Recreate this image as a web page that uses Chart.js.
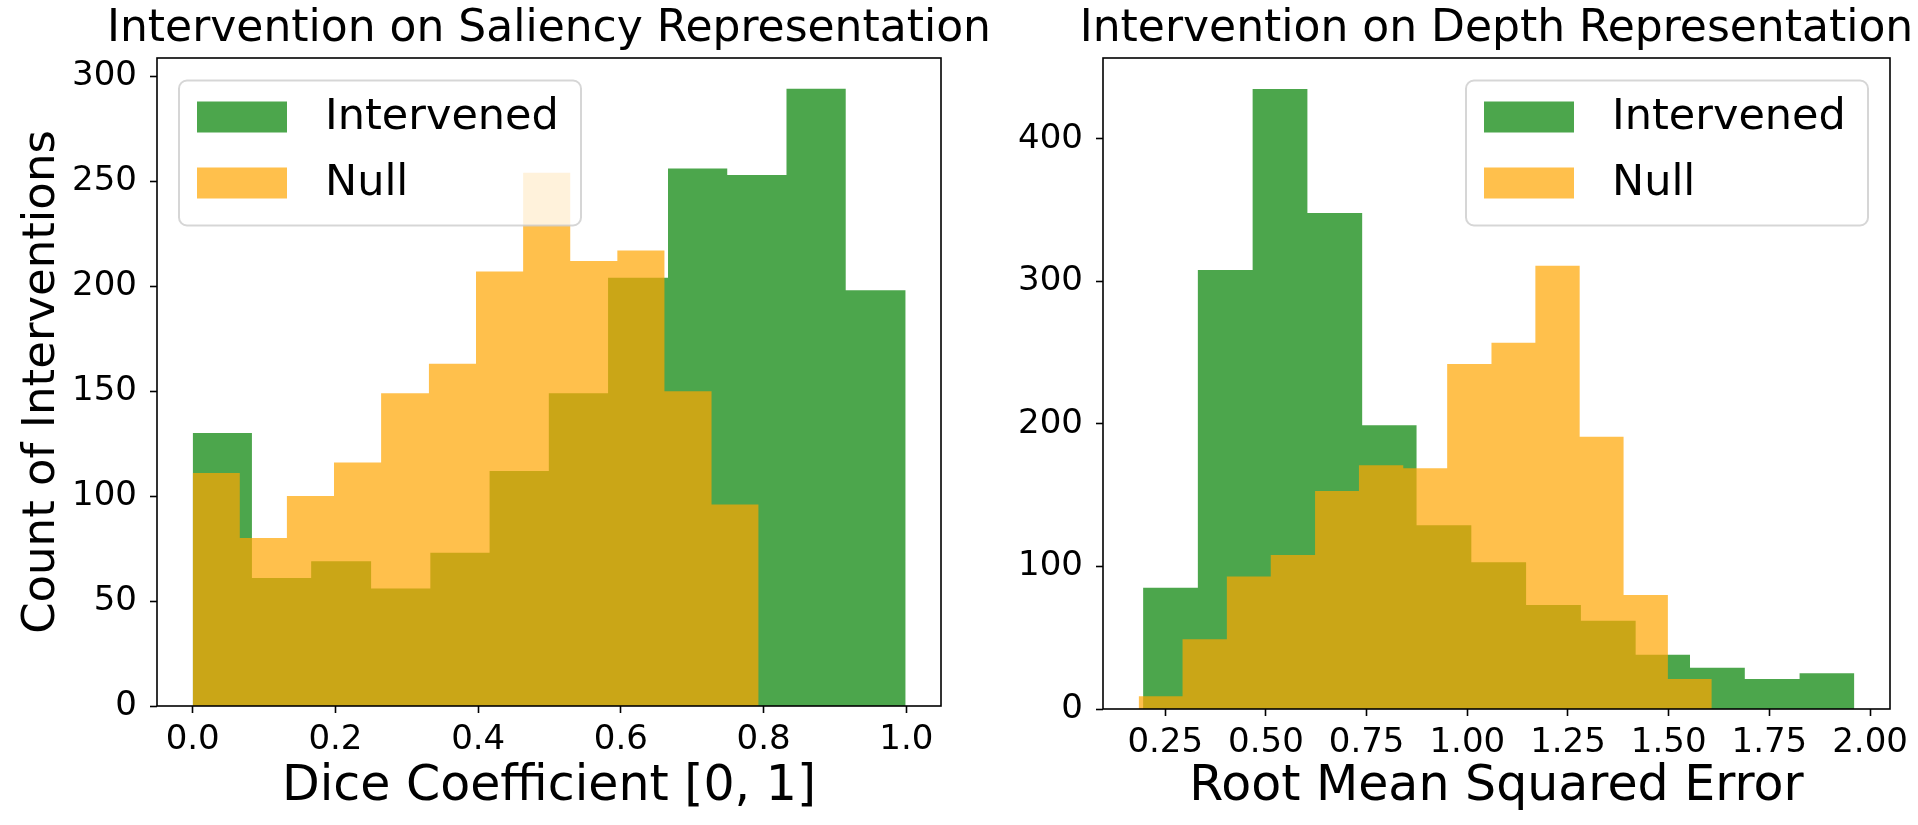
<!DOCTYPE html>
<html><head><meta charset="utf-8">
<script src="https://cdn.jsdelivr.net/npm/chart.js@4/dist/chart.umd.min.js"></script>
<style>
html,body{margin:0;padding:0;background:#fff;width:1918px;height:825px;overflow:hidden;position:relative}
canvas{position:absolute;top:0}
#c1{left:0;width:1098px;height:825px}
#c2{left:1000px;width:993px;height:825px}
</style></head><body>
<canvas id="c1" width="1098" height="825"></canvas>
<canvas id="c2" width="993" height="825"></canvas>
<script>
// ---- data ----
const seriesNames = ['Intervened', 'Null'];

const saliencyIntervenedEdges  = [0, 0.083, 0.166, 0.250, 0.333, 0.416, 0.499, 0.582, 0.666, 0.749, 0.832, 0.915, 0.999];
const saliencyIntervenedCounts = [130, 61, 69, 56, 73, 112, 149, 204, 256, 253, 294, 198];
const saliencyNullEdges        = [0, 0.066, 0.132, 0.198, 0.264, 0.331, 0.397, 0.463, 0.529, 0.595, 0.661, 0.727, 0.793];
const saliencyNullCounts       = [111, 80, 100, 116, 149, 163, 207, 254, 212, 217, 150, 96];

const depthIntervenedEdges  = [0.195, 0.331, 0.467, 0.603, 0.739, 0.874, 1.010, 1.146, 1.282, 1.418, 1.553, 1.689, 1.825, 1.961];
const depthIntervenedCounts = [85, 308, 435, 348, 199, 129, 103, 73, 62, 38, 29, 21, 25];
const depthNullEdges        = [0.184, 0.293, 0.403, 0.512, 0.622, 0.731, 0.841, 0.950, 1.060, 1.169, 1.279, 1.388, 1.498, 1.607];
const depthNullCounts       = [9, 49, 93, 108, 153, 171, 169, 242, 257, 311, 191, 80, 21];

const saliencyXTicks = [0, 0.2, 0.4, 0.6, 0.8, 1.0];
const saliencyYTicks = [0, 50, 100, 150, 200, 250, 300];
const depthXTicks = [0.25, 0.5, 0.75, 1.0, 1.25, 1.5, 1.75, 2.0];
const depthYTicks = [0, 100, 200, 300, 400];

const saliencyXRange = [-0.05, 1.0485];
const saliencyYRange = [0, 308.7];
const depthXRange = [0.0955, 2.0495];
const depthYRange = [0, 456.75];

// ---- styling ----
const FONT = 'DejaVu Sans';
const GREEN = 'rgba(0,128,0,0.7)';
const ORANGE = 'rgba(255,165,0,0.7)';

function histPoints(edges, counts) {
  const pts = counts.map((c, i) => ({x: edges[i], y: c}));
  pts.push({x: edges[edges.length - 1], y: counts[counts.length - 1]});
  return pts;
}

function histDataset(label, edges, counts, color, order) {
  return {
    label, order,
    data: histPoints(edges, counts),
    stepped: 'before',
    fill: 'origin',
    backgroundColor: color,
    borderColor: 'rgba(0,0,0,0)',
    borderWidth: 0,
    pointRadius: 0,
    pointHoverRadius: 0,
    tension: 0
  };
}

const framePlugin = {
  id: 'frame',
  afterDatasetsDraw(chart) {
    const {ctx, chartArea: a} = chart;
    ctx.save();
    ctx.strokeStyle = '#000';
    ctx.lineWidth = 1.6;
    ctx.strokeRect(a.left, a.top, a.right - a.left, a.bottom - a.top);
    ctx.restore();
  }
};

const legendPlugin = {
  id: 'boxLegend',
  afterDatasetsDraw(chart, args, opts) {
    const {ctx, chartArea: a} = chart;
    const w = 402, h = 145, r = 8;
    const x = opts.side === 'left' ? a.left + 22 : a.right - 22 - w;
    const y = a.top + 22.5;
    ctx.save();
    ctx.beginPath();
    ctx.moveTo(x + r, y);
    ctx.arcTo(x + w, y, x + w, y + h, r);
    ctx.arcTo(x + w, y + h, x, y + h, r);
    ctx.arcTo(x, y + h, x, y, r);
    ctx.arcTo(x, y, x + w, y, r);
    ctx.closePath();
    ctx.fillStyle = 'rgba(255,255,255,0.8)';
    ctx.fill();
    ctx.strokeStyle = 'rgba(204,204,204,0.8)';
    ctx.lineWidth = 2;
    ctx.stroke();
    chart.data.datasets.forEach((ds, i) => {
      ctx.fillStyle = ds.backgroundColor;
      ctx.fillRect(x + 18, y + 21 + i * 66, 90, 31);
      ctx.fillStyle = '#000';
      ctx.font = '43px "' + FONT + '"';
      ctx.textBaseline = 'middle';
      ctx.textAlign = 'left';
      ctx.fillText(ds.label, x + 146, y + 37 + i * 66);
    });
    ctx.restore();
  }
};

function makeChart(id, cfg) {
  const tickGrid = {display: true, drawOnChartArea: false, drawTicks: true, tickLength: 7, tickWidth: 1.6, tickColor: '#000'};
  return new Chart(document.getElementById(id), {
    type: 'line',
    data: {
      datasets: [
        histDataset(seriesNames[0], cfg.gEdges, cfg.gCounts, GREEN, 1),
        histDataset(seriesNames[1], cfg.nEdges, cfg.nCounts, ORANGE, 0)
      ]
    },
    options: {
      responsive: false,
      animation: false,
      events: [],
      layout: {padding: 0},
      plugins: {
        legend: {display: false},
        tooltip: {enabled: false},
        title: {display: true, text: cfg.title, color: '#000',
                font: {family: FONT, size: 44, weight: 'normal', lineHeight: 1},
                padding: {top: 7.5, bottom: 6.5}},
        boxLegend: {side: cfg.legendSide}
      },
      scales: {
        x: {
          type: 'linear', min: cfg.xRange[0], max: cfg.xRange[1],
          afterBuildTicks: s => { s.ticks = cfg.xTicks.map(v => ({value: v})); },
          afterFit: s => { s.height = cfg.xHeight; },
          grid: tickGrid,
          border: {display: false},
          ticks: {color: '#000', font: {family: FONT, size: 34}, padding: 7, maxRotation: 0, autoSkip: false,
                  callback: v => Number(v).toFixed(cfg.xDec)},
          title: {display: true, text: cfg.xTitle, color: '#000', font: {family: FONT, size: 49, lineHeight: 1},
                  padding: {top: 0, bottom: 13}}
        },
        y: {
          type: 'linear', position: 'left', min: cfg.yRange[0], max: cfg.yRange[1],
          afterBuildTicks: s => { s.ticks = cfg.yTicks.map(v => ({value: v})); },
          afterFit: s => { s.width = cfg.yWidth; },
          grid: tickGrid,
          border: {display: false},
          ticks: {color: '#000', font: {family: FONT, size: 34}, padding: 13, autoSkip: false,
                  callback: v => String(v)},
          title: {display: !!cfg.yTitle, text: cfg.yTitle || '', color: '#000', font: {family: FONT, size: 45, lineHeight: 1},
                  padding: {top: 20, bottom: 0}}
        },
        // empty spacer on the right so the title centres over the plot
        pad: {
          type: 'linear', position: 'right', display: true,
          afterFit: s => { s.width = cfg.yWidth; },
          grid: {display: false}, border: {display: false},
          ticks: {display: false}, title: {display: false}
        }
      }
    },
    plugins: [framePlugin, legendPlugin]
  });
}

makeChart('c1', {
  title: 'Intervention on Saliency Representation',
  gEdges: saliencyIntervenedEdges, gCounts: saliencyIntervenedCounts,
  nEdges: saliencyNullEdges, nCounts: saliencyNullCounts,
  xTicks: saliencyXTicks, yTicks: saliencyYTicks, xDec: 1,
  xRange: saliencyXRange, yRange: saliencyYRange,
  xTitle: 'Dice Coefficient [0, 1]', yTitle: 'Count of Interventions',
  yWidth: 157, xHeight: 119, legendSide: 'left'
});

makeChart('c2', {
  title: 'Intervention on Depth Representation',
  gEdges: depthIntervenedEdges, gCounts: depthIntervenedCounts,
  nEdges: depthNullEdges, nCounts: depthNullCounts,
  xTicks: depthXTicks, yTicks: depthYTicks, xDec: 2,
  xRange: depthXRange, yRange: depthYRange,
  xTitle: 'Root Mean Squared Error', yTitle: '',
  yWidth: 103, xHeight: 116, legendSide: 'right'
});
</script>
</body></html>
